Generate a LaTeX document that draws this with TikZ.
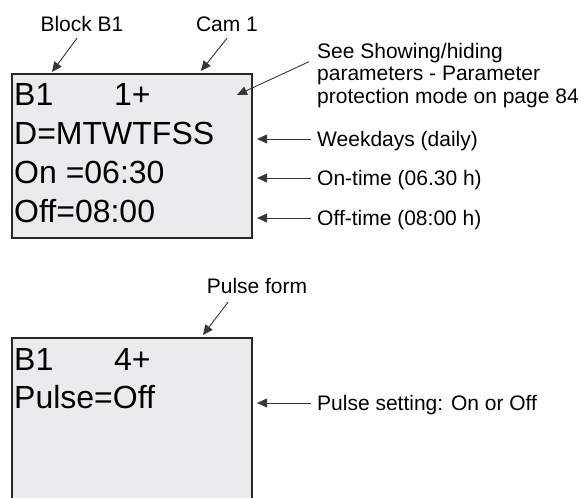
\documentclass[tikz,border=0pt]{standalone}
\usepackage{fontspec}
\setmainfont{Liberation Sans}
\usepackage{xcolor}
\usetikzlibrary{arrows.meta}

\definecolor{lcdgray}{RGB}{235,235,237}
\definecolor{framegray}{RGB}{40,40,40}
\definecolor{pingray}{RGB}{55,55,55}

\begin{document}
\begin{tikzpicture}[x=1pt, y=-1pt, >={Triangle[length=10pt, width=9pt]},
    lcd/.style={draw=framegray, line width=1.2pt, fill=lcdgray, inner sep=0pt},
    lcdtxt/.style={anchor=base west, inner sep=0pt, font=\fontsize{32}{38}\selectfont},
    lbl/.style={inner xsep=6pt, inner ysep=6pt, text height=15pt, text depth=0pt,
                font=\fontsize{21}{22.5}\selectfont},
    pin/.style={->, line width=0.9pt, pingray}]

\useasboundingbox (0,0) rectangle (585,497);
\clip (0,0) rectangle (585,497);

% ── Display 1: timer cams ───────────────────────────────────────
\node[lcd, minimum width=240pt, minimum height=164pt] (lcd1) at (132,156) {};
\node[lcdtxt] (b1a) at (14,106) {\makebox[100pt][l]{B1}1+};
\node[lcdtxt] (days) at (14,144.5) {D=MTWTFSS};
\node[lcdtxt] (ontime) at (14,183) {On =06:30};
\node[lcdtxt] (offtime) at (14,222) {Off=08:00};

% labels above
\node[lbl] (blk) at (82,24.5) {Block B1};
\node[lbl] (cam) at (227,24.5) {Cam 1};
\coordinate (blktip) at (52,72);
\coordinate (camtip) at (201,71);
\draw[pin] ([xshift=-5pt]blk.south) -- (blktip);
\draw[pin] (cam.south) -- (camtip);

% labels right
\node[anchor=north west, align=left, inner sep=6pt,
      font=\fontsize{21}{22.5}\selectfont] (see) at (311,36.7)
    {See Showing/hiding\\parameters - Parameter\\protection mode on page 84};
\coordinate (seetip) at (237,95);
\draw[pin] ([shift={(-2pt,-25pt)}]see.north west) -- (seetip);

\node[lbl, anchor=west] (wkd) at (311,139) {Weekdays (daily)};
\node[lbl, anchor=west] (ontm) at (311,178) {On-time (06.30 h)};
\node[lbl, anchor=west] (offtm) at (311,218) {Off-time (08:00 h)};
\draw[pin, shorten >=4.5pt] (wkd.west) -- (lcd1.east |- wkd.west);
\draw[pin, shorten >=4.5pt] (ontm.west) -- (lcd1.east |- ontm.west);
\draw[pin, shorten >=4.5pt] (offtm.west) -- (lcd1.east |- offtm.west);

% ── Display 2: pulse ────────────────────────────────────────────
\node[lcd, minimum width=240pt, minimum height=190pt] (lcd2) at (132,433) {};
\node[lcdtxt] (b1b) at (14,370) {\makebox[100pt][l]{B1}4+};
\node[lcdtxt] (pulse) at (14,408.5) {Pulse=Off};

\node[lbl] (pform) at (257,285.5) {Pulse form};
\coordinate (pformtip) at (203,335);
\draw[pin] ([xshift=-29pt, yshift=-3pt]pform.south) -- (pformtip);

\node[lbl, anchor=west] (pset) at (311,403) {Pulse setting: On or Off};
\draw[pin, shorten >=4.5pt] (pset.west) -- (lcd2.east |- pset.west);

\end{tikzpicture}
\end{document}
